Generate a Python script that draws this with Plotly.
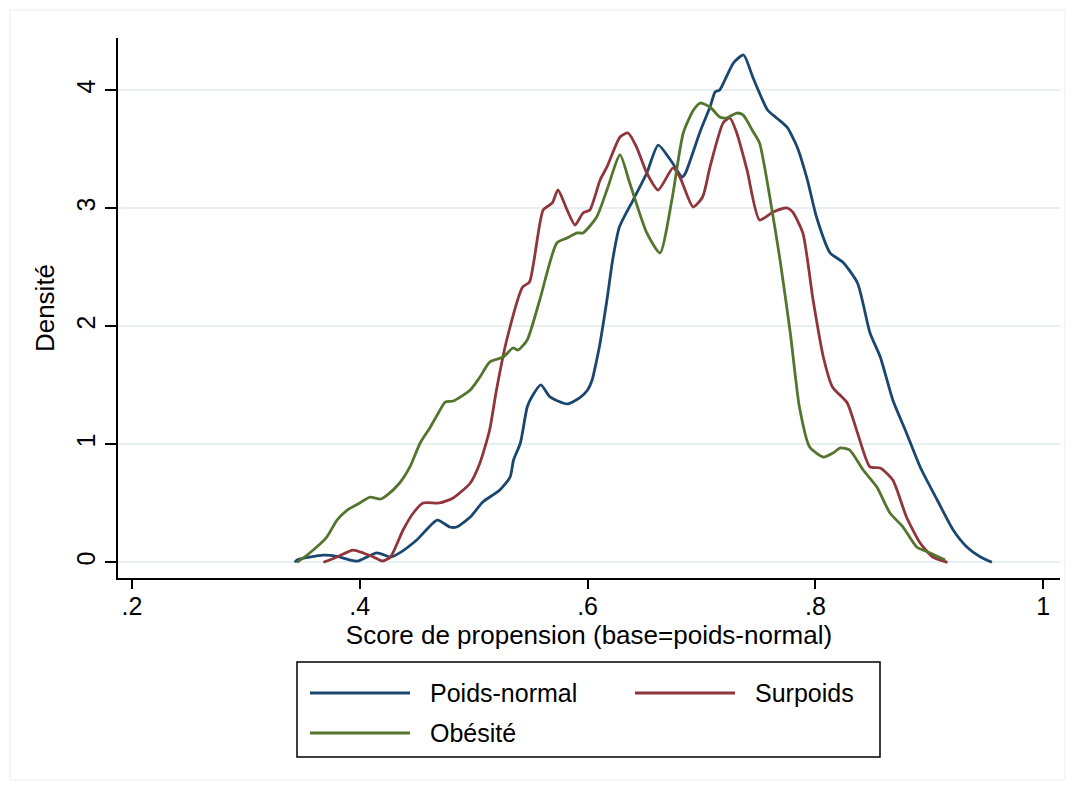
import plotly.graph_objects as go

# ---- data ----
poids_normal_x = [0.343, 0.345, 0.368, 0.380, 0.391, 0.398, 0.415, 0.427, 0.435, 0.450, 0.468, 0.479, 0.485,
                  0.497, 0.508, 0.523, 0.532, 0.535, 0.541, 0.547, 0.551, 0.559, 0.567, 0.582, 0.593, 0.600,
                  0.604, 0.608, 0.611, 0.617, 0.622, 0.628, 0.640, 0.652, 0.662, 0.674, 0.683, 0.686, 0.699,
                  0.7075, 0.712, 0.716, 0.728, 0.737, 0.745, 0.758, 0.766, 0.775, 0.784, 0.793, 0.801, 0.813,
                  0.824, 0.837, 0.848, 0.857, 0.868, 0.880, 0.892, 0.907, 0.921, 0.933, 0.945, 0.955]
poids_normal_y = [0.0, 0.02, 0.06, 0.05, 0.02, 0.01, 0.08, 0.045, 0.08, 0.189, 0.358, 0.299, 0.299,
                  0.384, 0.511, 0.613, 0.723, 0.867, 1.011, 1.316, 1.401, 1.503, 1.401, 1.342, 1.393, 1.460,
                  1.545, 1.714, 1.859, 2.223, 2.562, 2.843, 3.070, 3.299, 3.536, 3.392, 3.265, 3.299, 3.655,
                  3.858, 3.986, 4.003, 4.231, 4.299, 4.113, 3.833, 3.765, 3.689, 3.519, 3.240, 2.926, 2.621,
                  2.545, 2.367, 1.943, 1.740, 1.375, 1.096, 0.808, 0.528, 0.274, 0.130, 0.045, 0.0]

surpoids_x = [0.368, 0.380, 0.394, 0.403, 0.412, 0.420, 0.427, 0.438, 0.447, 0.4555, 0.470, 0.482, 0.497,
              0.5055, 0.514, 0.520, 0.529, 0.543, 0.549, 0.561, 0.569, 0.574, 0.582, 0.589, 0.596, 0.602,
              0.611, 0.617, 0.6285, 0.6355, 0.643, 0.652, 0.662, 0.675, 0.681, 0.6926, 0.701, 0.7075,
              0.719, 0.725, 0.731, 0.740, 0.751, 0.763, 0.775, 0.780, 0.789, 0.798, 0.807, 0.815, 0.828,
              0.837, 0.848, 0.857, 0.868, 0.880, 0.892, 0.903, 0.916]
surpoids_y = [0.0, 0.045, 0.104, 0.079, 0.045, 0.011, 0.045, 0.274, 0.418, 0.503, 0.503, 0.545, 0.672,
              0.842, 1.121, 1.46, 1.884, 2.333, 2.375, 2.986, 3.045, 3.155, 2.986, 2.858, 2.960, 2.986,
              3.240, 3.350, 3.604, 3.638, 3.519, 3.299, 3.155, 3.342, 3.265, 3.011, 3.096, 3.350,
              3.723, 3.765, 3.638, 3.325, 2.901, 2.969, 3.003, 2.969, 2.791, 2.223, 1.740, 1.486, 1.350,
              1.096, 0.808, 0.799, 0.697, 0.384, 0.164, 0.045, 0.0]

obesite_x = [0.345, 0.356, 0.371, 0.380, 0.389, 0.400, 0.409, 0.418, 0.424, 0.435, 0.444, 0.453, 0.462,
             0.468, 0.475, 0.482, 0.497, 0.5055, 0.514, 0.526, 0.5345, 0.539, 0.547, 0.558, 0.573, 0.582,
             0.591, 0.596, 0.608, 0.617, 0.6285, 0.637, 0.652, 0.6636, 0.674, 0.684, 0.693, 0.699, 0.7075,
             0.716, 0.722, 0.731, 0.7365, 0.745, 0.751, 0.760, 0.769, 0.778, 0.786, 0.795, 0.807, 0.8155,
             0.822, 0.830, 0.842, 0.854, 0.8655, 0.877, 0.889, 0.901, 0.914]
obesite_y = [0.0, 0.079, 0.214, 0.358, 0.443, 0.503, 0.553, 0.536, 0.570, 0.672, 0.808, 1.011, 1.147,
             1.248, 1.358, 1.367, 1.460, 1.570, 1.697, 1.740, 1.816, 1.799, 1.884, 2.223, 2.706, 2.748,
             2.791, 2.791, 2.926, 3.155, 3.452, 3.214, 2.791, 2.621, 3.070, 3.638, 3.833, 3.892, 3.858,
             3.774, 3.765, 3.807, 3.791, 3.655, 3.553, 3.096, 2.562, 1.943, 1.316, 0.977, 0.892, 0.926,
             0.969, 0.952, 0.782, 0.638, 0.418, 0.299, 0.130, 0.079, 0.019]

series_names = ["Poids-normal", "Surpoids", "Obésité"]
series_colors = ["#1a476f", "#90353b", "#55752f"]

x_tick_vals = [0.2, 0.4, 0.6, 0.8, 1.0]
x_tick_text = [".2", ".4", ".6", ".8", "1"]
y_tick_vals = [0, 1, 2, 3, 4]
y_tick_text = ["0", "1", "2", "3", "4"]

x_title = "Score de propension (base=poids-normal)"
y_title = "Densité"

FONT = "Liberation Sans, Arial, Helvetica, sans-serif"
FS = 25
FS_TITLE = 26

fig = go.Figure()
for name, xs, ys, col in zip(series_names,
                             [poids_normal_x, surpoids_x, obesite_x],
                             [poids_normal_y, surpoids_y, obesite_y],
                             series_colors):
    fig.add_trace(go.Scatter(x=xs, y=ys, mode="lines", name=name,
                             line=dict(color=col, width=2.8, shape="spline", smoothing=0.6),
                             showlegend=False, hoverinfo="skip"))

# page body has an 8px margin, so margins are reduced by 8 to land the plot area at screen px 118..1060 / 38..578
fig.update_layout(
    width=1075, height=790,
    margin=dict(l=110, r=23, t=30, b=220),
    paper_bgcolor="white", plot_bgcolor="white",
    font=dict(family=FONT, size=FS, color="black"),
    xaxis=dict(range=[0.1877, 1.0148], tickmode="array", tickvals=x_tick_vals, ticktext=x_tick_text,
               showgrid=False, zeroline=False, showline=True, linecolor="black", linewidth=2,
               ticks="outside", ticklen=9, tickwidth=2, tickcolor="black",
               tickfont=dict(size=FS), ticklabelstandoff=-4,
               title=dict(text=x_title, font=dict(size=FS_TITLE), standoff=6)),
    yaxis=dict(range=[-0.133, 4.443], tickmode="array", tickvals=y_tick_vals, ticktext=y_tick_text,
               showgrid=True, gridcolor="#e6eff1", gridwidth=1.5, zeroline=False,
               showline=True, linecolor="black", linewidth=2,
               ticks="outside", ticklen=11, tickwidth=2, tickcolor="black",
               tickangle=-90, tickfont=dict(size=FS),
               title=dict(text=y_title, font=dict(size=FS_TITLE), standoff=10)),
)


def px_x(p):
    return (p - 118) / 942


def px_y(p):
    return (578 - p) / 540


# faint outer frame
fig.add_shape(type="rect", xref="paper", yref="paper",
              x0=px_x(10), x1=px_x(1065), y0=px_y(780), y1=px_y(10),
              line=dict(color="#f4f4f4", width=1.5), layer="below")

# legend (box, sample lines, labels)
fig.add_shape(type="rect", xref="paper", yref="paper",
              x0=px_x(297), x1=px_x(880), y0=px_y(757), y1=px_y(662),
              line=dict(color="black", width=1.5), fillcolor="white")

legend_slots = [(310, 693), (635, 693), (310, 733)]
for name, col, (lx, ly) in zip(series_names, series_colors, legend_slots):
    fig.add_shape(type="line", xref="paper", yref="paper",
                  x0=px_x(lx), x1=px_x(lx + 100), y0=px_y(ly), y1=px_y(ly),
                  line=dict(color=col, width=2.8))
    fig.add_annotation(xref="paper", yref="paper", x=px_x(lx + 118), y=px_y(ly),
                       text=name, showarrow=False, xanchor="left", yanchor="middle",
                       font=dict(family=FONT, size=FS, color="black"))

fig.write_html("out.html")
